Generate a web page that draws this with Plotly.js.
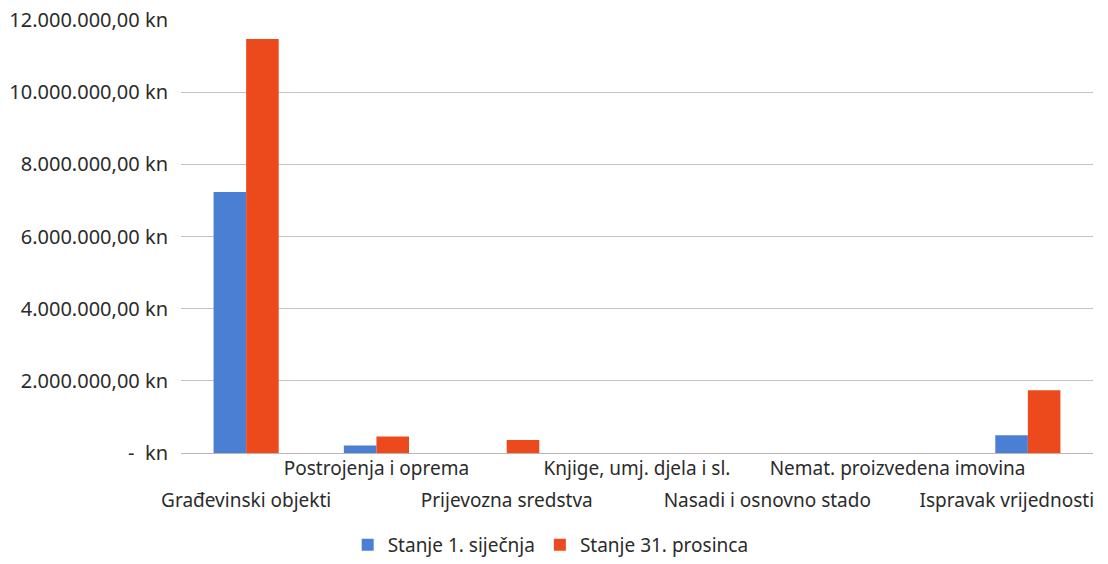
<!DOCTYPE html>
<html>
<head>
<meta charset="utf-8">
<script src="https://cdn.plot.ly/plotly-3.0.1.min.js"></script>
<style>
  html, body { margin: 0; padding: 0; background: #ffffff; }
  #chart { width: 1108px; height: 564px; }
</style>
</head>
<body>
<div id="chart"></div>
<script>
const categories = [
  "Građevinski objekti",
  "Postrojenja i oprema",
  "Prijevozna sredstva",
  "Knjige, umj. djela i sl.",
  "Nasadi i osnovno stado",
  "Nemat. proizvedena imovina",
  "Ispravak vrijednosti"
];
const seriesNames = ["Stanje 1. siječnja", "Stanje 31. prosinca"];
const stanjeSijecanj = [7230000, 205000, 0, 0, 0, 0, 490000];
const stanjeProsinac = [11470000, 460000, 360000, 0, 0, 0, 1740000];
const yTickVals = [0, 2000000, 4000000, 6000000, 8000000, 10000000, 12000000];
const yTickText = ["-  kn", "2.000.000,00 kn", "4.000.000,00 kn", "6.000.000,00 kn",
                   "8.000.000,00 kn", "10.000.000,00 kn", "12.000.000,00 kn"];

const idx = categories.map((_, i) => i);
const lastIdx = categories.length - 1;
const upperIdx = idx.filter(i => i % 2 === 1);
const lowerIdx = idx.filter(i => i % 2 === 0 && i !== lastIdx);
const edgeIdx = [lastIdx];

const FONT = "Noto Sans, DejaVu Sans, sans-serif";
const TXT = "#2b2b2b";
const FS = 19;

const traces = [
  { type: "bar", name: seriesNames[0], x: idx, y: stanjeSijecanj,
    marker: { color: "#4b7fd3" }, hoverinfo: "skip" },
  { type: "bar", name: seriesNames[1], x: idx, y: stanjeProsinac,
    marker: { color: "#ec4a1d" }, hoverinfo: "skip" },
  { type: "scatter", x: [], y: [], xaxis: "x2", showlegend: false, hoverinfo: "skip" },
  { type: "scatter", x: [], y: [], xaxis: "x3", showlegend: false, hoverinfo: "skip" }
];

function catAxis(vals, standoff, shift, extra) {
  return Object.assign({
    type: "linear", range: [-0.5, categories.length - 0.5],
    tickmode: "array", tickvals: vals, ticktext: vals.map(i => categories[i]),
    showgrid: false, zeroline: false, showline: false, ticks: "",
    ticklabelstandoff: standoff, ticklabelshift: shift, ticklabeloverflow: "allow",
    tickfont: { family: FONT, size: FS, color: TXT }, fixedrange: true
  }, extra || {});
}

const layout = {
  width: 1108, height: 564,
  margin: { l: 181, r: 15, t: 20, b: 111 },
  paper_bgcolor: "#ffffff", plot_bgcolor: "#ffffff",
  font: { family: FONT, size: FS, color: TXT },
  barmode: "group", bargap: 0.5, bargroupgap: 0,
  showlegend: true,
  legend: {
    orientation: "h", xref: "container", x: 0.497, xanchor: "center",
    yref: "container", y: -0.008, yanchor: "bottom",
    font: { family: FONT, size: FS, color: TXT },
    traceorder: "normal"
  },
  xaxis: catAxis(upperIdx, 2, 0),
  xaxis2: catAxis(lowerIdx, 34, 0, { overlaying: "x", matches: "x", anchor: "y", side: "bottom" }),
  xaxis3: catAxis(edgeIdx, 34, -21, { overlaying: "x", matches: "x", anchor: "y", side: "bottom" }),
  yaxis: {
    range: [0, 12000000],
    tickmode: "array", tickvals: yTickVals, ticktext: yTickText,
    showgrid: true, gridcolor: "#cbbfbf", gridwidth: 1,
    zeroline: true, zerolinecolor: "#bdb3b3", zerolinewidth: 1,
    showline: false, ticks: "", ticklabelstandoff: 12,
    tickfont: { family: FONT, size: 20, color: TXT }, fixedrange: true
  }
};

Plotly.newPlot("chart", traces, layout, { displayModeBar: false, staticPlot: true });
</script>
</body>
</html>
